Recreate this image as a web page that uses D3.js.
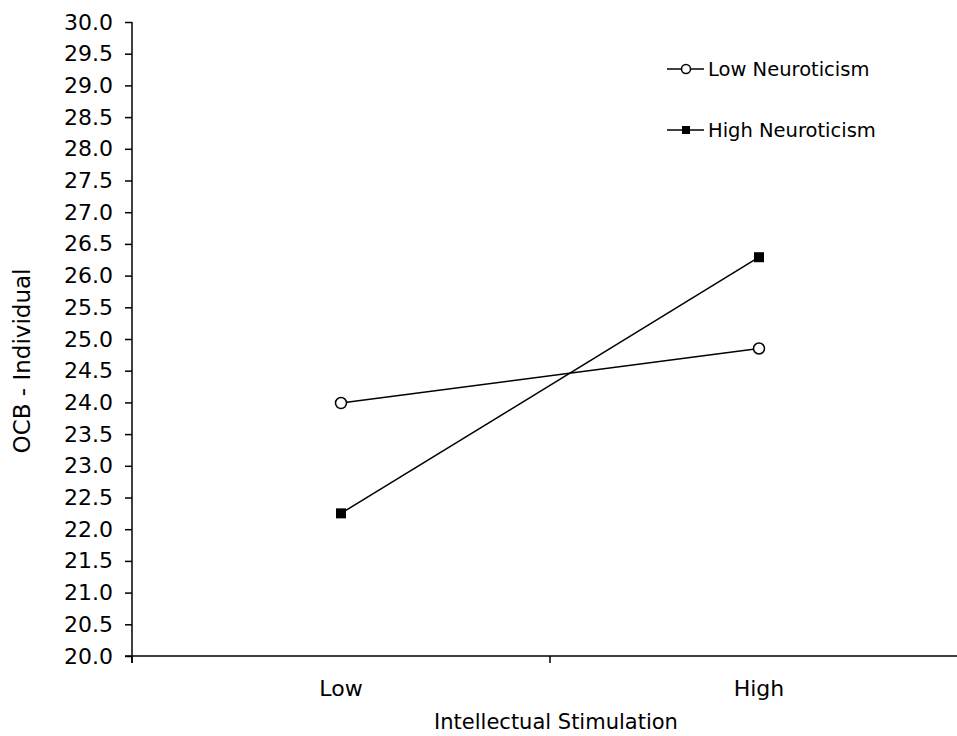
<!DOCTYPE html>
<html>
<head>
<meta charset="utf-8">
<script src="https://cdn.jsdelivr.net/npm/d3@7"></script>
<style>
  body { margin: 0; background: #fff; }
  text { font-family: "DejaVu Sans", Verdana, sans-serif; fill: #000; }
</style>
</head>
<body>
<div id="viscontainer"></div>
<script>
const categories = ["Low", "High"];
const lowNeuroticism = [23.99, 24.85];
const highNeuroticism = [22.25, 26.29];
const yTicks = d3.range(20, 30.01, 0.5);

const width = 957;
const height = 736;
const margin = { left: 132, top: 22, right: -11, bottom: 80 };

const svg = d3.select("#viscontainer")
  .append("svg")
  .attr("width", width)
  .attr("height", height)
  .style("display", "block");

const x = d3.scaleBand()
  .domain(categories)
  .range([margin.left, width - margin.right]);

const y = d3.scaleLinear()
  .domain([20, 30])
  .range([height - margin.bottom, margin.top]);

const fontSize = 22;

// y axis
const yAxis = svg.append("g")
  .attr("transform", `translate(${margin.left},0)`)
  .call(d3.axisLeft(y).tickValues(yTicks).tickFormat(d3.format(".1f")).tickSize(7).tickPadding(12));
yAxis.select(".domain").attr("d", `M0,${y(30)}V${y(20) + 7}`).attr("stroke-width", 1.5);
yAxis.selectAll(".tick line").attr("stroke-width", 1.5);
yAxis.selectAll(".tick text").attr("font-size", fontSize).style("font-family", "DejaVu Sans");

// x axis with ticks between categories
const xAxis = svg.append("g")
  .attr("transform", `translate(0,${y(20)})`);
xAxis.append("line")
  .attr("x1", margin.left - 7)
  .attr("x2", width)
  .attr("stroke", "#000")
  .attr("stroke-width", 1.5);
const bounds = categories.map(c => x(c)).concat([x(categories[1]) + x.bandwidth()]);
xAxis.selectAll(".xtick")
  .data(bounds)
  .join("line")
  .attr("x1", d => d)
  .attr("x2", d => d)
  .attr("y1", 0)
  .attr("y2", 7)
  .attr("stroke", "#000")
  .attr("stroke-width", 1.5);
xAxis.selectAll(".xlabel")
  .data(categories)
  .join("text")
  .attr("x", d => x(d) + x.bandwidth() / 2)
  .attr("y", 40)
  .attr("text-anchor", "middle")
  .attr("font-size", fontSize)
  .text(d => d);

svg.append("text")
  .attr("x", 556)
  .attr("y", 729)
  .attr("text-anchor", "middle")
  .attr("font-size", 21)
  .text("Intellectual Stimulation");

svg.append("text")
  .attr("transform", `translate(30,361) rotate(-90)`)
  .attr("text-anchor", "middle")
  .attr("font-size", 23)
  .text("OCB - Individual");

const cx = d => x(d) + x.bandwidth() / 2;

const line = d3.line()
  .x((d, i) => cx(categories[i]))
  .y(d => y(d));

// lines
[lowNeuroticism, highNeuroticism].forEach(series => {
  svg.append("path")
    .datum(series)
    .attr("d", line)
    .attr("fill", "none")
    .attr("stroke", "#000")
    .attr("stroke-width", 1.5);
});

// markers
svg.selectAll(".lowpt")
  .data(lowNeuroticism)
  .join("circle")
  .attr("cx", (d, i) => cx(categories[i]))
  .attr("cy", d => y(d))
  .attr("r", 5.5)
  .attr("fill", "#fff")
  .attr("stroke", "#000")
  .attr("stroke-width", 1.5);
svg.selectAll(".highpt")
  .data(highNeuroticism)
  .join("rect")
  .attr("x", (d, i) => cx(categories[i]) - 5)
  .attr("y", d => y(d) - 5)
  .attr("width", 10)
  .attr("height", 10)
  .attr("fill", "#000");

// legend
const legend = svg.append("g");
const legendRows = [
  { label: "Low Neuroticism", y: 69, shape: "circle" },
  { label: "High Neuroticism", y: 130, shape: "square" }
];
legendRows.forEach(r => {
  legend.append("line")
    .attr("x1", 667).attr("x2", 704)
    .attr("y1", r.y).attr("y2", r.y)
    .attr("stroke", "#000").attr("stroke-width", 1.5);
  if (r.shape === "circle") {
    legend.append("circle")
      .attr("cx", 686).attr("cy", r.y).attr("r", 4.5)
      .attr("fill", "#fff").attr("stroke", "#000").attr("stroke-width", 1.5);
  } else {
    legend.append("rect")
      .attr("x", 682).attr("y", r.y - 4).attr("width", 8).attr("height", 8)
      .attr("fill", "#000");
  }
  legend.append("text")
    .attr("x", 708)
    .attr("y", r.y)
    .attr("dy", "0.35em")
    .attr("font-size", 19.5)
    .text(r.label);
});
</script>
</body>
</html>
